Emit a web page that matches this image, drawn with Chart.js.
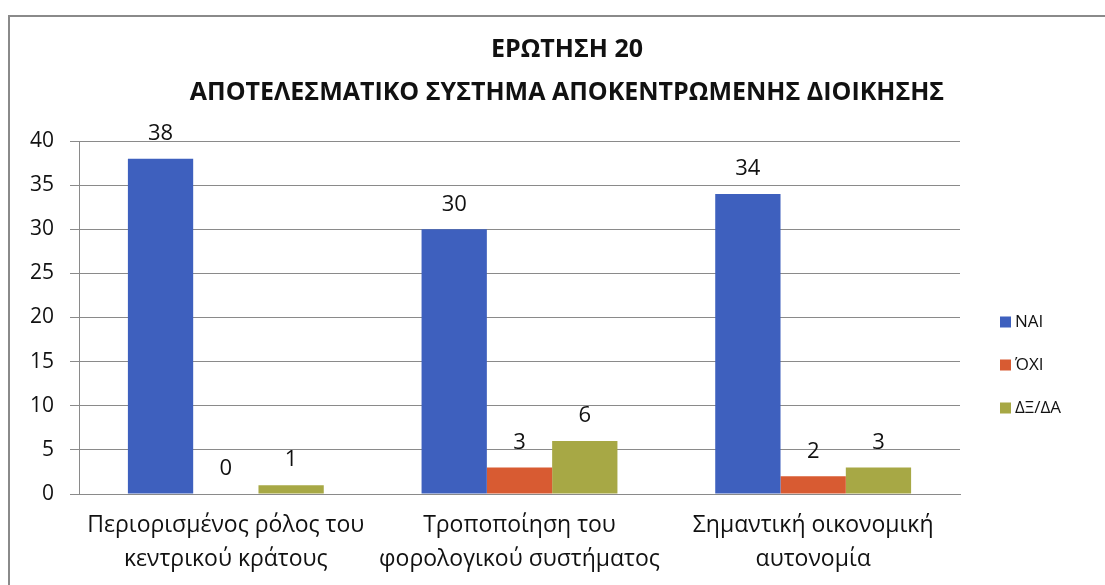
<!DOCTYPE html>
<html lang="el">
<head>
<meta charset="utf-8">
<title>Ερώτηση 20</title>
<script src="https://cdn.jsdelivr.net/npm/chart.js@4.4.0/dist/chart.umd.min.js"></script>
<style>
  html, body { margin: 0; padding: 0; background: #fff; overflow: hidden; }
  /* marco del gráfico: solo se ven los bordes izquierdo y superior */
  #marco {
    position: absolute; left: 8px; top: 15px;
    width: 1120px; height: 580px;
    border-top: 2px solid #8a8a8a;
    border-left: 2px solid #8a8a8a;
  }
  #grafico { display: block; }
</style>
</head>
<body>
<div id="marco"><canvas id="grafico" width="1114" height="568"></canvas></div>
<script>
// Datos
const categorias = [
  ['Περιορισμένος ρόλος του', 'κεντρικού κράτους'],
  ['Τροποποίηση του', 'φορολογικού συστήματος'],
  ['Σημαντική οικονομική', 'αυτονομία'],
];
const nai = [38, 30, 34];
const oxi = [0, 3, 2];
const dxda = [1, 6, 3];
const etiquetasSeries = ['ΝΑΙ', 'ΌΧΙ', 'ΔΞ/ΔΑ'];
const coloresSeries = ['#3e60be', '#d85b32', '#a7a845'];
const titulo = ['ΕΡΩΤΗΣΗ 20', 'ΑΠΟΤΕΛΕΣΜΑΤΙΚΟ ΣΥΣΤΗΜΑ ΑΠΟΚΕΝΤΡΩΜΕΝΗΣ ΔΙΟΙΚΗΣΗΣ'];

const FUENTE = "'Open Sans', sans-serif";
const GRIS = '#8a8a8a';
const TEXTO = '#111';

// Título centrado sobre todo el marco (no sobre el área del gráfico)
const tituloMarco = {
  id: 'tituloMarco',
  afterDraw(chart, args, opts) {
    const ctx = chart.ctx;
    ctx.save();
    ctx.font = `bold ${opts.size}px ${FUENTE}`;
    ctx.fillStyle = TEXTO;
    ctx.textAlign = 'center';
    ctx.textBaseline = 'middle';
    titulo.forEach((linea, i) => {
      ctx.fillText(linea, chart.width / 2, opts.y + i * opts.paso);
    });
    ctx.restore();
  }
};

// Valores encima de cada barra
const valoresBarras = {
  id: 'valoresBarras',
  afterDatasetsDraw(chart, args, opts) {
    const ctx = chart.ctx;
    ctx.save();
    ctx.font = `${opts.size}px ${FUENTE}`;
    ctx.fillStyle = TEXTO;
    ctx.textAlign = 'center';
    ctx.textBaseline = 'middle';
    chart.data.datasets.forEach((ds, i) => {
      chart.getDatasetMeta(i).data.forEach((barra, j) => {
        ctx.fillText(String(ds.data[j]), barra.x, barra.y - opts.offset);
      });
    });
    ctx.restore();
  }
};

// Leyenda vertical a la derecha
const leyendaLateral = {
  id: 'leyendaLateral',
  afterDraw(chart, args, opts) {
    const ctx = chart.ctx;
    ctx.save();
    ctx.font = `${opts.size}px ${FUENTE}`;
    ctx.textBaseline = 'middle';
    chart.data.datasets.forEach((ds, i) => {
      const y = opts.y + i * opts.paso;
      ctx.fillStyle = ds.backgroundColor;
      ctx.fillRect(opts.x, y - opts.caja / 2, opts.caja, opts.caja);
      ctx.fillStyle = TEXTO;
      ctx.fillText(ds.label, opts.x + opts.caja + 4, y);
    });
    ctx.restore();
  }
};

const series = [nai, oxi, dxda];

new Chart(document.getElementById('grafico'), {
  type: 'bar',
  data: {
    labels: categorias,
    datasets: series.map((datos, i) => ({
      label: etiquetasSeries[i],
      data: datos,
      backgroundColor: coloresSeries[i],
      borderWidth: 0,
      barPercentage: 1.0,
      categoryPercentage: 0.667,
    })),
  },
  options: {
    responsive: false,
    animation: false,
    layout: { padding: { left: 0, right: 164, top: 124, bottom: 0 } },
    plugins: {
      legend: { display: false },
      tooltip: { enabled: false },
      title: { display: false },
      tituloMarco: { size: 25, y: 33, paso: 43 },
      valoresBarras: { size: 22, offset: 25 },
      leyendaLateral: { x: 990, y: 305, paso: 43, caja: 11, size: 17 },
    },
    scales: {
      x: {
        afterFit(scale) { scale.height = 91; },
        grid: { display: false, drawTicks: false },
        border: { display: true, color: GRIS, width: 1 },
        ticks: {
          color: TEXTO,
          padding: 14,
          font: { family: FUENTE, size: 23, lineHeight: 1.5 },
          maxRotation: 0,
        },
      },
      y: {
        min: 0,
        max: 40,
        afterFit(scale) { scale.width = 69; },
        grid: { color: GRIS, lineWidth: 1, tickLength: 9, drawTicks: true },
        border: { display: true, color: GRIS, width: 1 },
        ticks: {
          stepSize: 5,
          color: TEXTO,
          padding: 16,
          font: { family: FUENTE, size: 21 },
        },
      },
    },
  },
  plugins: [tituloMarco, valoresBarras, leyendaLateral],
});
</script>
</body>
</html>
